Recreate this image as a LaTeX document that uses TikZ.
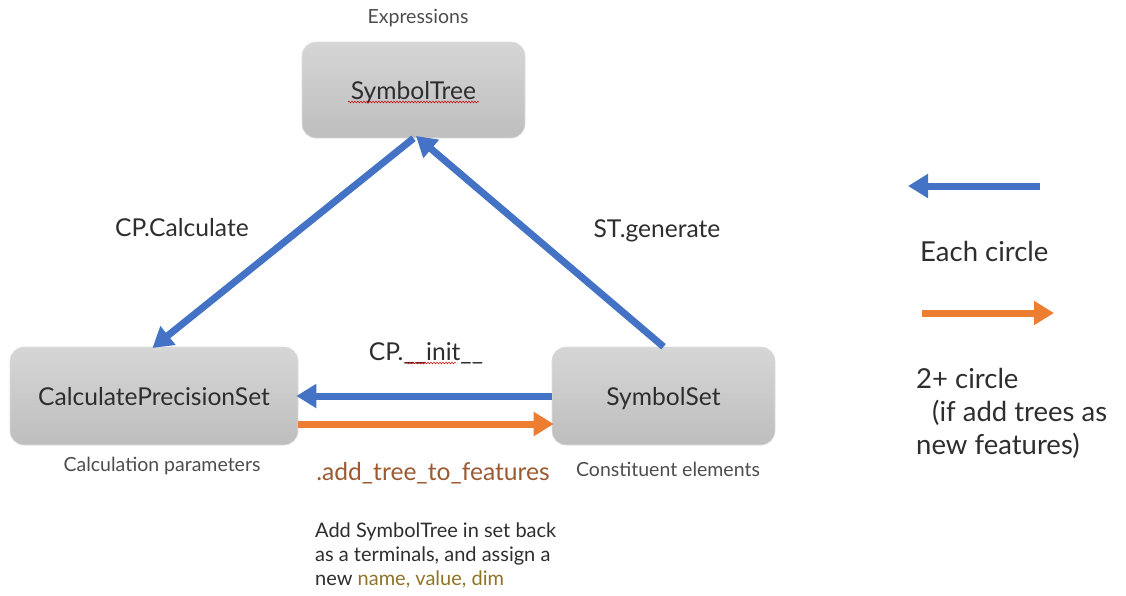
\documentclass[tikz,border=0pt]{standalone}
\usepackage{fontspec}
\setmainfont{Lato}
\usetikzlibrary{arrows.meta,decorations.pathmorphing}
\definecolor{bluearr}{HTML}{4472C4}
\definecolor{orangearr}{HTML}{ED7D31}
\definecolor{browntxt}{HTML}{9C5A32}
\definecolor{goldtxt}{HTML}{8F7428}
\definecolor{txt}{HTML}{2E2E2E}
\definecolor{boxtop}{HTML}{D6D6D6}
\definecolor{boxbot}{HTML}{BEBEBE}
\tikzset{
  box/.style={rounded corners=14pt, top color=boxtop, bottom color=boxbot, draw=boxtop!80!white, line width=0.6pt, inner sep=0pt, text=txt, text depth=0pt, font=\fontsize{24.6}{29}\selectfont},
  bluearrow/.style={draw=bluearr, line width=7pt, -{Triangle[length=20pt,width=23pt]}, shorten >=-2pt},
  orangearrow/.style={draw=orangearr, line width=7pt, -{Triangle[length=20pt,width=23pt]}, shorten >=-2pt},
  biglabel/.style={text=txt, font=\fontsize{24.6}{29}\selectfont, inner sep=0pt},
  leglabel/.style={text=txt, font=\fontsize{27.5}{33}\selectfont, inner sep=0pt, anchor=base west},
  smalllabel/.style={text=txt!85!white, font=\fontsize{19.5}{23}\selectfont, inner sep=0pt},
  desc/.style={text=txt, font=\fontsize{20}{24}\selectfont, inner sep=0pt, anchor=base west},
  spell/.style={draw=red!80!black, line width=0.5pt, decorate, decoration={snake, amplitude=0.9pt, segment length=3pt}},
}
\begin{document}
\begin{tikzpicture}[x=1pt,y=-1pt]
\useasboundingbox[fill=white] (0,0) rectangle (1126,595);
% boxes
\node[box, minimum width=223pt, minimum height=96pt] (st) at (413.5,90) {SymbolTree};
\node[box, minimum width=288pt, minimum height=98pt] (cps) at (154,396) {CalculatePrecisionSet};
\node[box, minimum width=223pt, minimum height=98pt] (ss) at (663.5,396) {SymbolSet};
% small captions
\node[smalllabel] (expr) at (418,18) {Expressions};
\node[smalllabel] (calcp) at (162,466) {Calculation parameters};
\node[smalllabel] (const) at (668,469) {Constituent elements};
% connectors
\draw[bluearrow] (st.south) -- (cps.north);
\draw[bluearrow] (ss.north) -- ([xshift=4pt,yshift=1pt]st.south);
\draw[bluearrow] (ss.west) -- (cps.east);
\draw[orangearrow] ([yshift=-28pt]cps.east) -- ([yshift=-28pt]ss.west);
% connector labels
\node[biglabel] (lcalc) at (182,228) {CP.Calculate};
\node[biglabel] (lgen) at (657,231) {ST.generate};
\node[biglabel] (linit) at (426,353) {CP.\_\_init\_\_};
\node[biglabel, text=browntxt] (ladd) at (433,473) {.add\_tree\_to\_features};
\node[desc] (ldesc1) at (315,537) {Add SymbolTree in set back};
\node[desc] (ldesc2) at (315,561) {as a terminals, and assign a};
\node[desc] (ldesc3) at (315,585) {new \textcolor{goldtxt}{name, value, dim}};
% spell-check underlines
\draw[spell] (348,102) -- (479,102);
\draw[spell] (406,363) -- (456,363);
% legend
\coordinate (lb1) at (1040,186);
\coordinate (lb2) at (910,186);
\draw[bluearrow] (lb1) -- (lb2);
\node[leglabel] (leach) at (920,261) {Each circle};
\coordinate (lo1) at (922,313);
\coordinate (lo2) at (1052,313);
\draw[orangearrow] (lo1) -- (lo2);
\node[leglabel] (ltwo1) at (916,388) {2+ circle};
\node[leglabel] (ltwo2) at (932,421) {(if add trees as};
\node[leglabel] (ltwo3) at (916,454) {new features)};
\end{tikzpicture}
\end{document}
